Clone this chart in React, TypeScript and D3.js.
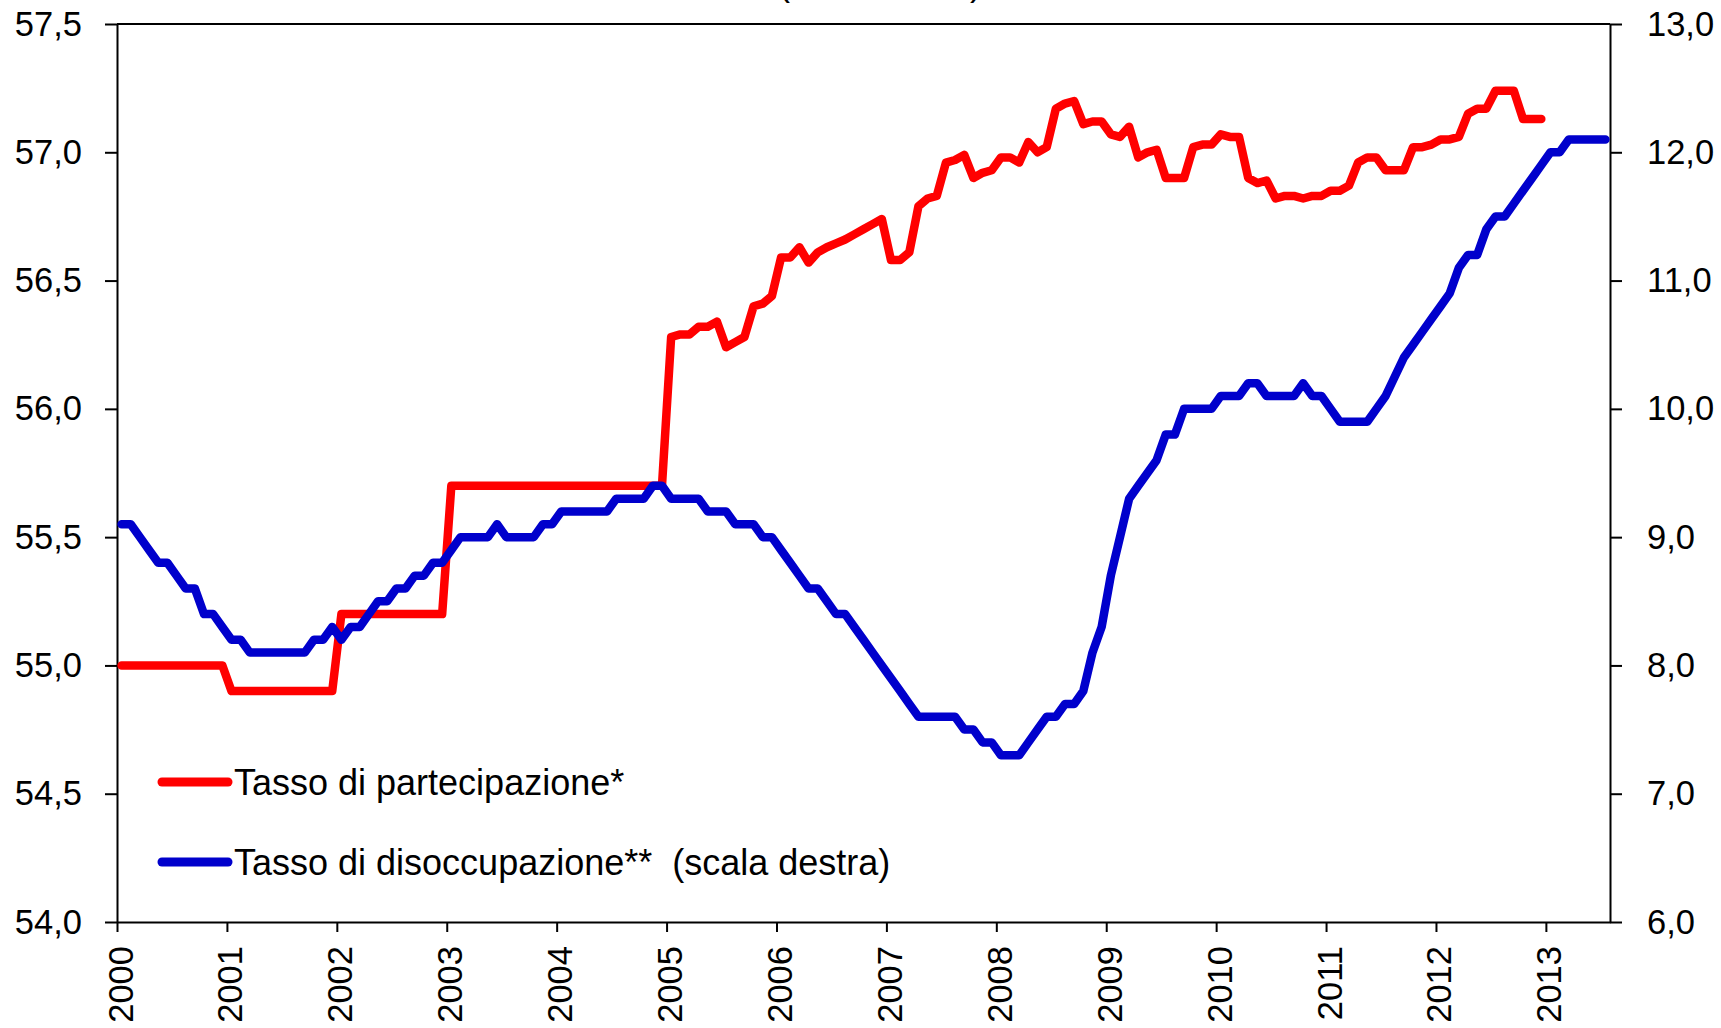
import React, { useEffect, useRef } from 'react';
import * as d3 from 'd3';

// monthly observations, Jan 2000 - Jul 2013
const yearLabels = ['2000', '2001', '2002', '2003', '2004', '2005', '2006', '2007', '2008', '2009', '2010', '2011', '2012', '2013'];

// Tasso di partecipazione* (left scale), Jan 2000 - Dec 2012
const partecipazione = [
  55.0, 55.0, 55.0, 55.0, 55.0, 55.0, 55.0, 55.0, 55.0, 55.0, 55.0, 55.0,
  54.9, 54.9, 54.9, 54.9, 54.9, 54.9, 54.9, 54.9, 54.9, 54.9, 54.9, 54.9,
  55.2, 55.2, 55.2, 55.2, 55.2, 55.2, 55.2, 55.2, 55.2, 55.2, 55.2, 55.2,
  55.7, 55.7, 55.7, 55.7, 55.7, 55.7, 55.7, 55.7, 55.7, 55.7, 55.7, 55.7,
  55.7, 55.7, 55.7, 55.7, 55.7, 55.7, 55.7, 55.7, 55.7, 55.7, 55.7, 55.7,
  56.28, 56.29, 56.29, 56.32, 56.32, 56.34, 56.24, 56.26, 56.28, 56.4, 56.41, 56.44,
  56.59, 56.59, 56.63, 56.57, 56.61, 56.63, 56.645, 56.66, 56.68, 56.7, 56.72, 56.74,
  56.58, 56.58, 56.61, 56.79, 56.82, 56.83, 56.96, 56.97, 56.99, 56.9, 56.92, 56.93,
  56.98, 56.98, 56.96, 57.04, 57.0, 57.02, 57.17, 57.19, 57.2, 57.11, 57.12, 57.12,
  57.07, 57.06, 57.1, 56.98, 57.0, 57.01, 56.9, 56.9, 56.9, 57.02, 57.03, 57.03,
  57.07, 57.06, 57.06, 56.9, 56.88, 56.89, 56.82, 56.83, 56.83, 56.82, 56.83, 56.83,
  56.85, 56.85, 56.87, 56.96, 56.98, 56.98, 56.93, 56.93, 56.93, 57.02, 57.02, 57.03,
  57.05, 57.05, 57.06, 57.15, 57.17, 57.17, 57.24, 57.24, 57.24, 57.13, 57.13, 57.13,
];

// Tasso di disoccupazione** (right scale), Jan 2000 - Jul 2013
const disoccupazione = [
  9.1, 9.1, 9.0, 8.9, 8.8, 8.8, 8.7, 8.6, 8.6, 8.4, 8.4, 8.3,
  8.2, 8.2, 8.1, 8.1, 8.1, 8.1, 8.1, 8.1, 8.1, 8.2, 8.2, 8.3,
  8.2, 8.3, 8.3, 8.4, 8.5, 8.5, 8.6, 8.6, 8.7, 8.7, 8.8, 8.8,
  8.9, 9.0, 9.0, 9.0, 9.0, 9.1, 9.0, 9.0, 9.0, 9.0, 9.1, 9.1,
  9.2, 9.2, 9.2, 9.2, 9.2, 9.2, 9.3, 9.3, 9.3, 9.3, 9.4, 9.4,
  9.3, 9.3, 9.3, 9.3, 9.2, 9.2, 9.2, 9.1, 9.1, 9.1, 9.0, 9.0,
  8.9, 8.8, 8.7, 8.6, 8.6, 8.5, 8.4, 8.4, 8.3, 8.2, 8.1, 8.0,
  7.9, 7.8, 7.7, 7.6, 7.6, 7.6, 7.6, 7.6, 7.5, 7.5, 7.4, 7.4,
  7.3, 7.3, 7.3, 7.4, 7.5, 7.6, 7.6, 7.7, 7.7, 7.8, 8.1, 8.3,
  8.7, 9.0, 9.3, 9.4, 9.5, 9.6, 9.8, 9.8, 10.0, 10.0, 10.0, 10.0,
  10.1, 10.1, 10.1, 10.2, 10.2, 10.1, 10.1, 10.1, 10.1, 10.2, 10.1, 10.1,
  10.0, 9.9, 9.9, 9.9, 9.9, 10.0, 10.1, 10.25, 10.4, 10.5, 10.6, 10.7,
  10.8, 10.9, 11.1, 11.2, 11.2, 11.4, 11.5, 11.5, 11.6, 11.7, 11.8, 11.9,
  12.0, 12.0, 12.1, 12.1, 12.1, 12.1, 12.1,
];

const leftTicks = [54.0, 54.5, 55.0, 55.5, 56.0, 56.5, 57.0, 57.5];
const rightTicks = [6, 7, 8, 9, 10, 11, 12, 13];

const legendLabels = ['Tasso di partecipazione*', 'Tasso di disoccupazione**  (scala destra)'];
const titleText = '(dati mensili)';

const FONT = '"Liberation Sans", Arial, Helvetica, sans-serif';
const RED = '#ff0000';
const BLUE = '#0000cc';

const W = 1721;
const H = 1028;

const App = () => {
  const chartRef = useRef<SVGSVGElement>(null);

  useEffect(() => {
    const svg = d3.select(chartRef.current);
    svg.selectAll('*').remove();

    const margin = { top: 24, right: 111, bottom: 106, left: 117 };
    const x0 = margin.left;
    const x1 = W - margin.right;
    const yTop = margin.top;
    const yBottom = H - margin.bottom;

    const nMonths = disoccupazione.length;
    const x = d3.scaleLinear().domain([-0.5, nMonths - 0.5]).range([x0, x1]);
    const yL = d3.scaleLinear().domain([54, 57.5]).range([yBottom, yTop]);
    const yR = d3.scaleLinear().domain([6, 13]).range([yBottom, yTop]);

    const it = d3.formatLocale({ decimal: ',', thousands: '.', grouping: [3], currency: ['', ' €'] });
    const fmt = it.format('.1f');

    const styleAxis = (g, size) => {
      g.attr('font-family', FONT).attr('font-size', size);
      g.select('.domain').attr('stroke', '#000').attr('stroke-width', 2);
      g.selectAll('.tick line').attr('stroke', '#000').attr('stroke-width', 2);
      g.selectAll('.tick text').attr('fill', '#000');
    };

    // clipped title at the very top
    svg
      .append('text')
      .attr('x', 880)
      .attr('y', -5)
      .attr('text-anchor', 'middle')
      .attr('font-family', FONT)
      .attr('font-size', 36)
      .text(titleText);

    // top border
    svg
      .append('line')
      .attr('x1', x0)
      .attr('x2', x1)
      .attr('y1', yTop)
      .attr('y2', yTop)
      .attr('stroke', '#000')
      .attr('stroke-width', 2);

    // left axis
    svg
      .append('g')
      .attr('transform', `translate(${x0},0)`)
      .call(d3.axisLeft(yL).tickValues(leftTicks).tickFormat(fmt).tickSize(12).tickSizeOuter(0).tickPadding(23))
      .call(g => styleAxis(g, 34.5));

    // right axis
    svg
      .append('g')
      .attr('transform', `translate(${x1},0)`)
      .call(d3.axisRight(yR).tickValues(rightTicks).tickFormat(fmt).tickSize(12).tickSizeOuter(0).tickPadding(25))
      .call(g => styleAxis(g, 34.5));

    // bottom axis, one tick per year
    const yearIdx = yearLabels.map((_, k) => k * 12 - 0.5);
    svg
      .append('g')
      .attr('transform', `translate(0,${yBottom})`)
      .call(
        d3
          .axisBottom(x)
          .tickValues(yearIdx)
          .tickFormat((d, k) => yearLabels[k])
          .tickSize(10)
          .tickSizeOuter(0),
      )
      .call(g => styleAxis(g, 34.5))
      .call(g =>
        g
          .selectAll('.tick text')
          .attr('transform', 'rotate(-90)')
          .attr('x', -24)
          .attr('y', 15)
          .attr('dy', 0)
          .attr('text-anchor', 'end'),
      );

    // series
    const lineL = d3
      .line<number>()
      .x((d, i) => x(i))
      .y(d => yL(d));
    const lineR = d3
      .line<number>()
      .x((d, i) => x(i))
      .y(d => yR(d));

    svg
      .append('path')
      .datum(partecipazione)
      .attr('d', lineL)
      .attr('fill', 'none')
      .attr('stroke', RED)
      .attr('stroke-width', 8.5)
      .attr('stroke-linejoin', 'round')
      .attr('stroke-linecap', 'round');

    svg
      .append('path')
      .datum(disoccupazione)
      .attr('d', lineR)
      .attr('fill', 'none')
      .attr('stroke', BLUE)
      .attr('stroke-width', 8.5)
      .attr('stroke-linejoin', 'round')
      .attr('stroke-linecap', 'round');

    // legend
    const legend = svg.append('g').attr('font-family', FONT).attr('font-size', 36);
    const legendColors = [RED, BLUE];
    const legendY = [782, 862];
    legendLabels.forEach((label, k) => {
      legend
        .append('line')
        .attr('x1', 162)
        .attr('x2', 228)
        .attr('y1', legendY[k])
        .attr('y2', legendY[k])
        .attr('stroke', legendColors[k])
        .attr('stroke-width', 9)
        .attr('stroke-linecap', 'round');
      legend
        .append('text')
        .attr('x', 234)
        .attr('y', legendY[k] + 13)
        .attr('fill', '#000')
        .style('white-space', 'pre')
        .text(label);
    });
  }, []);

  return (
    <div style={{ position: 'absolute', left: 0, top: 0 }}>
      <svg ref={chartRef} width={W} height={H} style={{ display: 'block' }} />
    </div>
  );
};

export default App;
